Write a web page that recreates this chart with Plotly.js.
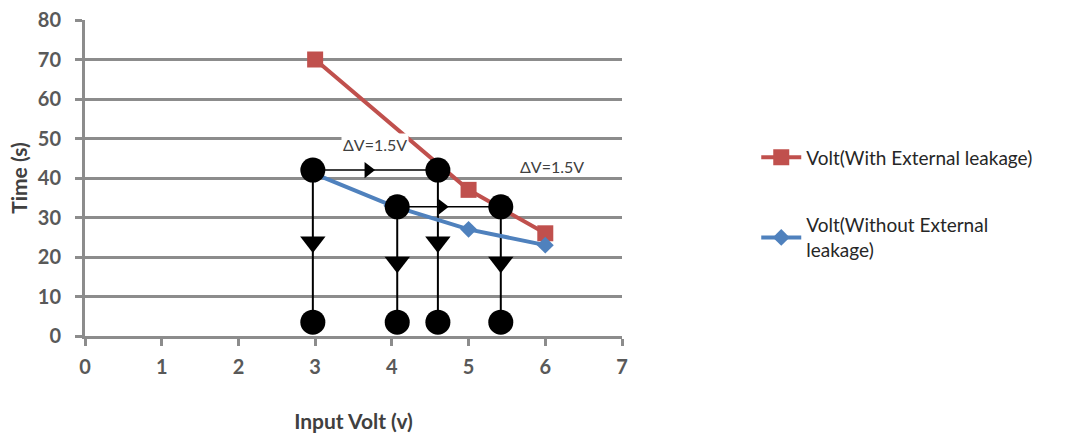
<!DOCTYPE html>
<html>
<head>
<meta charset="utf-8">
<script src="https://cdn.plot.ly/plotly-3.0.1.min.js"></script>
<style>
  html, body { margin: 0; padding: 0; background: #fff; }
  #chart { width: 1077px; height: 435px; }
</style>
</head>
<body>
<div id="chart"></div>
<script>
// Measured series
const voltWith = [3, 5, 6];
const timeWith = [70, 37, 26];
const voltWithout = [3, 4, 5, 6];
const timeWithout = [41, 33, 27, 23];

// Step-diagram nodes (upper dots, lower dots, down arrows)
const nodeVolt = [2.97, 4.07, 4.60, 5.42];
const nodeTop = [42, 32.7, 42, 32.7];
const nodeBottom = [3.5, 3.5, 3.5, 3.5];
const arrowDownTime = [23.8, 18.7, 23.8, 18.7];

// Horizontal ΔV spans: [from, to] at a level, with arrow head position
const spanFrom = [2.97, 4.07];
const spanTo = [4.60, 5.42];
const spanLevel = [42, 32.7];
const spanArrowVolt = [3.69, 4.65];

const deltaLabel = 'ΔV=1.5V';
const deltaLabelVolt = [3.78, 6.09];
const deltaLabelTime = [48.4, 43.0];

const xTicks = [0, 1, 2, 3, 4, 5, 6, 7];
const yTicks = [0, 10, 20, 30, 40, 50, 60, 70, 80];

const BLACK = '#000000';
const traces = [];

// vertical drop lines
nodeVolt.forEach((v, i) => {
  traces.push({
    x: [v, v], y: [nodeTop[i], nodeBottom[i]],
    mode: 'lines', line: {color: BLACK, width: 2},
    showlegend: false, hoverinfo: 'skip'
  });
});
// horizontal span lines
spanFrom.forEach((v, i) => {
  traces.push({
    x: [v, spanTo[i]], y: [spanLevel[i], spanLevel[i]],
    mode: 'lines', line: {color: BLACK, width: 1.5},
    showlegend: false, hoverinfo: 'skip'
  });
});

// data series
traces.push({
  name: 'Volt(With External leakage)',
  x: voltWith, y: timeWith,
  mode: 'lines+markers',
  line: {color: '#C0504D', width: 4},
  marker: {symbol: 'square', size: 16, color: '#C0504D'},
  legendgroup: 'a'
});
traces.push({
  name: 'Volt(Without External<br>leakage)',
  x: voltWithout, y: timeWithout,
  mode: 'lines+markers',
  line: {color: '#4F81BD', width: 4},
  marker: {symbol: 'diamond', size: 13, color: '#4F81BD'},
  legendgroup: 'b'
});

// dots and arrow heads
traces.push({
  x: nodeVolt.concat(nodeVolt), y: nodeTop.concat(nodeBottom),
  mode: 'markers', marker: {symbol: 'circle', size: 25, color: BLACK},
  showlegend: false, hoverinfo: 'skip'
});
traces.push({
  x: nodeVolt, y: arrowDownTime,
  mode: 'markers', marker: {symbol: 'triangle-down', size: 22, color: BLACK},
  showlegend: false, hoverinfo: 'skip'
});
traces.push({
  x: spanArrowVolt, y: spanLevel,
  mode: 'markers', marker: {symbol: 'triangle-right', size: 14, color: BLACK},
  showlegend: false, hoverinfo: 'skip'
});

const FONT = 'Lato, "Liberation Sans", sans-serif';
const tickFont = {family: FONT, size: 20, color: '#595959', weight: 'bold'};
const axisCommon = {
  showline: true, linecolor: '#8c8c8c', linewidth: 3,
  ticks: 'outside', tickcolor: '#8c8c8c', tickwidth: 3, ticklen: 7,
  zeroline: false, tickfont: tickFont, fixedrange: true
};

const layout = {
  width: 1077, height: 435,
  margin: {l: 85, r: 455, t: 20, b: 99},
  paper_bgcolor: '#ffffff', plot_bgcolor: '#ffffff',
  font: {family: FONT},
  xaxis: Object.assign({}, axisCommon, {
    range: [0, 7], tickvals: xTicks, showgrid: false,
    ticklabelstandoff: 4,
    title: {text: 'Input Volt (v)', font: {size: 21, color: '#404040', weight: 'bold'}, standoff: 38}
  }),
  yaxis: Object.assign({}, axisCommon, {
    range: [0, 80], tickvals: yTicks, showgrid: true,
    gridcolor: '#8c8c8c', gridwidth: 3,
    ticklabelstandoff: 10,
    title: {text: 'Time (s)', font: {size: 21, color: '#404040', weight: 'bold'}, standoff: 5}
  }),
  showlegend: true,
  legend: {
    x: 1.25, y: 0.625, xanchor: 'left', yanchor: 'top',
    font: {family: FONT, size: 19, color: '#262626'},
    traceorder: 'grouped', tracegroupgap: 40,
    bgcolor: 'rgba(0,0,0,0)', itemwidth: 40
  },
  annotations: deltaLabelVolt.map((v, i) => ({
    x: v, y: deltaLabelTime[i], xref: 'x', yref: 'y',
    text: deltaLabel, showarrow: false,
    font: {family: FONT, size: 16, color: '#404040'},
    bgcolor: i === 0 ? '#ffffff' : 'rgba(0,0,0,0)'
  }))
};

Plotly.newPlot('chart', traces, layout, {staticPlot: true, displayModeBar: false});
</script>
</body>
</html>
